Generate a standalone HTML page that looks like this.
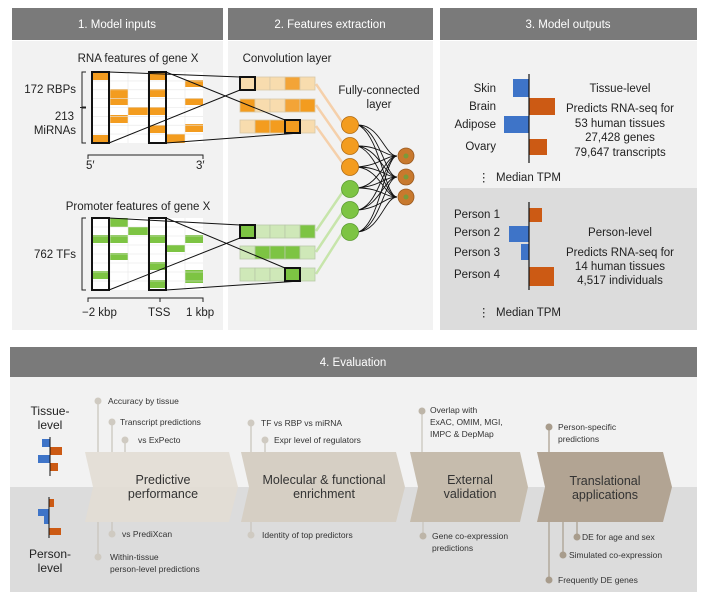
<!DOCTYPE html>
<html><head><meta charset="utf-8"><style>
body{margin:0;background:#fff;}
svg{display:block;font-family:"Liberation Sans",Arial,sans-serif;}
</style></head><body>
<svg width="711" height="602" viewBox="0 0 711 602" xmlns="http://www.w3.org/2000/svg">
<rect width="711" height="602" fill="#fff"/>
<!-- headers -->
<rect x="12" y="8" width="211" height="32" fill="#7a7a7a"/>
<rect x="228" y="8" width="205" height="32" fill="#7a7a7a"/>
<rect x="440" y="8" width="257" height="32" fill="#7a7a7a"/>
<g fill="#fff" font-size="11.5" text-anchor="middle">
<text x="117" y="28">1. Model inputs</text>
<text x="330" y="28">2. Features extraction</text>
<text x="568" y="28">3. Model outputs</text>
</g>
<rect x="12" y="41" width="211" height="289" fill="#f2f2f2"/>
<rect x="228" y="41" width="205" height="289" fill="#f2f2f2"/>
<rect x="440" y="41" width="257" height="147" fill="#f2f2f2"/>
<rect x="440" y="188" width="257" height="142" fill="#dcdcdc"/>

<!-- RNA grid -->
<g font-size="11.5" fill="#222">
<text x="138" y="62" text-anchor="middle">RNA features of gene X</text>
<text x="138" y="210" text-anchor="middle">Promoter features of gene X</text>
<text x="76" y="93" text-anchor="end">172 RBPs</text>
<text x="74" y="120" text-anchor="end">213</text>
<text x="76" y="134" text-anchor="end">MiRNAs</text>
<text x="76" y="258" text-anchor="end">762 TFs</text>
<text x="86" y="169">5′</text>
<text x="196" y="169">3′</text>
<text x="82" y="316">−2 kbp</text>
<text x="148" y="316">TSS</text>
<text x="186" y="316">1 kbp</text>
<text x="287" y="62" text-anchor="middle">Convolution layer</text>
<text x="379" y="94" text-anchor="middle">Fully-connected</text>
<text x="379" y="108" text-anchor="middle">layer</text>
</g>
<rect x="91" y="72" width="112" height="71" fill="#fff"/>
<g fill="#f39c1f">
<rect x="91" y="72" width="19" height="8"/><rect x="91" y="135" width="19" height="8"/>
<rect x="110" y="89" width="18" height="16"/><rect x="110" y="115" width="18" height="8"/>
<rect x="128" y="107" width="20" height="8"/>
<rect x="148" y="72" width="18" height="8"/><rect x="148" y="89" width="18" height="8"/><rect x="148" y="107" width="18" height="8"/><rect x="148" y="125" width="18" height="8"/>
<rect x="166" y="134" width="19" height="9"/>
<rect x="185" y="80" width="18" height="7"/><rect x="185" y="98" width="18" height="7"/><rect x="185" y="124" width="18" height="8"/>
</g>
<g stroke="#e6e6e6" stroke-width="0.6">
<path d="M91 80.9H203M91 89.8H203M91 98.6H203M91 107.5H203M91 116.4H203M91 125.2H203M91 134.1H203M110 72V143M128 72V143M148 72V143M166 72V143M185 72V143"/>
</g>
<rect x="91" y="218" width="112" height="72" fill="#fff"/>
<g fill="#7dc443">
<rect x="91" y="235" width="19" height="8"/><rect x="91" y="271" width="19" height="8"/>
<rect x="110" y="218" width="18" height="9"/><rect x="110" y="235" width="18" height="8"/><rect x="110" y="253" width="18" height="7"/>
<rect x="128" y="227" width="20" height="8"/>
<rect x="148" y="235" width="18" height="8"/><rect x="148" y="262" width="18" height="8"/><rect x="148" y="280" width="18" height="8"/>
<rect x="166" y="245" width="19" height="7"/>
<rect x="185" y="235" width="18" height="8"/><rect x="185" y="270" width="18" height="13"/>
</g>
<g stroke="#e6e6e6" stroke-width="0.6">
<path d="M91 227H203M91 236H203M91 245H203M91 254H203M91 263H203M91 272H203M91 281H203M110 218V290M128 218V290M148 218V290M166 218V290M185 218V290"/>
</g>
<g fill="none" stroke="#222" stroke-width="1">
<path d="M86 72H82V107H86M82 107.5H80M86 108H82V143H86"/>
<path d="M86 218H82V290H86"/>
<path d="M88 159V155H203V159"/>
<path d="M88 302V298H203V302M160 298V302"/>
</g>
<g fill="none" stroke="#111" stroke-width="2">
<rect x="92" y="72" width="17" height="71"/><rect x="149" y="72" width="17" height="71"/>
<rect x="92" y="218" width="17" height="72"/><rect x="149" y="218" width="17" height="72"/>
</g>

<!-- fan lines -->
<g stroke="#f6c89a" stroke-width="2.5" opacity="0.8">
<path d="M316 84L344 125M316 105L344 145M316 126L344 165"/>
</g>
<g stroke="#bde39a" stroke-width="2.5" opacity="0.8">
<path d="M316 231L344 190M316 252L344 210M316 274L344 230"/>
</g>
<!-- conv rows -->
<g stroke="#d8c8a8" stroke-width="0.8">
<rect x="240" y="77" width="15" height="13" fill="#f8dcae"/><rect x="255" y="77" width="15" height="13" fill="#f8dcae"/><rect x="270" y="77" width="15" height="13" fill="#f8dcae"/><rect x="285" y="77" width="15" height="13" fill="#f3a437"/><rect x="300" y="77" width="15" height="13" fill="#f8dcae"/>
<rect x="240" y="99" width="15" height="13" fill="#f39c1f"/><rect x="255" y="99" width="15" height="13" fill="#f8dcae"/><rect x="270" y="99" width="15" height="13" fill="#f8dcae"/><rect x="285" y="99" width="15" height="13" fill="#f3a437"/><rect x="300" y="99" width="15" height="13" fill="#f39c1f"/>
<rect x="240" y="120" width="15" height="13" fill="#f8dcae"/><rect x="255" y="120" width="15" height="13" fill="#f39c1f"/><rect x="270" y="120" width="15" height="13" fill="#f39c1f"/><rect x="285" y="120" width="15" height="13" fill="#f39c1f"/><rect x="300" y="120" width="15" height="13" fill="#f8dcae"/>
</g>
<g stroke="#b8c8a8" stroke-width="0.8">
<rect x="240" y="225" width="15" height="13" fill="#7dc443"/><rect x="255" y="225" width="15" height="13" fill="#cfe8b8"/><rect x="270" y="225" width="15" height="13" fill="#cfe8b8"/><rect x="285" y="225" width="15" height="13" fill="#cfe8b8"/><rect x="300" y="225" width="15" height="13" fill="#7dc443"/>
<rect x="240" y="246" width="15" height="13" fill="#cfe8b8"/><rect x="255" y="246" width="15" height="13" fill="#7dc443"/><rect x="270" y="246" width="15" height="13" fill="#7dc443"/><rect x="285" y="246" width="15" height="13" fill="#7dc443"/><rect x="300" y="246" width="15" height="13" fill="#cfe8b8"/>
<rect x="240" y="268" width="15" height="13" fill="#cfe8b8"/><rect x="255" y="268" width="15" height="13" fill="#cfe8b8"/><rect x="270" y="268" width="15" height="13" fill="#cfe8b8"/><rect x="285" y="268" width="15" height="13" fill="#7dc443"/><rect x="300" y="268" width="15" height="13" fill="#cfe8b8"/>
</g>
<g fill="none" stroke="#111" stroke-width="2">
<rect x="240" y="77" width="15" height="13"/><rect x="285" y="120" width="15" height="13"/>
<rect x="240" y="225" width="15" height="13"/><rect x="285" y="268" width="15" height="13"/>
</g>
<g stroke="#111" stroke-width="1">
<path d="M109 72L240 77M109 143L240 90M166 72L285 120M166 143L300 133"/>
<path d="M109 218L240 225M109 290L240 238M166 218L285 268M166 290L300 281"/>
</g>
<!-- FC -->
<g fill="none" stroke="#111" stroke-width="0.9">
<path d="M358 125C380 125 385 156 397 156M358 125C380 130 385 177 397 177M358 125C380 135 385 197 397 197"/>
<path d="M358 146C380 146 385 156 397 156M358 146C380 150 385 177 397 177M358 146C380 155 385 197 397 197"/>
<path d="M358 167C380 165 385 156 397 156M358 167C380 167 385 177 397 177M358 167C380 170 385 197 397 197"/>
<path d="M358 188C380 185 385 156 397 156M358 188C380 186 385 177 397 177M358 188C380 188 385 197 397 197"/>
<path d="M358 210C380 205 385 156 397 156M358 210C380 205 385 177 397 177M358 210C380 208 385 197 397 197"/>
<path d="M358 232C380 225 385 156 397 156M358 232C380 228 385 177 397 177M358 232C380 230 385 197 397 197"/>
</g>
<g stroke="#b06a10" stroke-width="0.8" fill="#f39c1f">
<circle cx="350" cy="125" r="8.5"/><circle cx="350" cy="146" r="8.5"/><circle cx="350" cy="167" r="8.5"/>
</g>
<g stroke="#5a9a30" stroke-width="0.8" fill="#7dc443">
<circle cx="350" cy="189" r="8.5"/><circle cx="350" cy="210" r="8.5"/><circle cx="350" cy="232" r="8.5"/>
</g>
<g fill="#c8792e" stroke="#9a5a20" stroke-width="0.8">
<circle cx="406" cy="156" r="8"/><circle cx="406" cy="177" r="8"/><circle cx="406" cy="197" r="8"/>
</g>
<g fill="#7a9a3a"><circle cx="406" cy="156" r="2.5"/><circle cx="406" cy="177" r="2.5"/><circle cx="406" cy="197" r="2.5"/></g>

<!-- Model outputs -->
<rect x="513" y="79" width="16" height="18" fill="#3e74c8"/>
<rect x="529" y="98" width="26" height="17" fill="#cc5a14"/>
<rect x="504" y="116" width="25" height="17" fill="#3e74c8"/>
<rect x="529" y="139" width="18" height="16" fill="#cc5a14"/>
<path d="M529 74V163" stroke="#111" stroke-width="1.2"/>
<rect x="529" y="208" width="13" height="14" fill="#cc5a14"/>
<rect x="509" y="226" width="20" height="16" fill="#3e74c8"/>
<rect x="521" y="244" width="8" height="16" fill="#3e74c8"/>
<rect x="529" y="267" width="25" height="19" fill="#cc5a14"/>
<path d="M529 202V290" stroke="#111" stroke-width="1.2"/>
<g font-size="11.5" fill="#222">
<g text-anchor="end"><text x="496" y="92">Skin</text><text x="496" y="110">Brain</text><text x="496" y="128">Adipose</text><text x="496" y="150">Ovary</text></g>
<text x="454" y="218">Person 1</text><text x="454" y="236">Person 2</text><text x="454" y="256">Person 3</text><text x="454" y="278">Person 4</text>
<g text-anchor="middle">
<text x="620" y="92">Tissue-level</text><text x="620" y="112">Predicts RNA-seq for</text><text x="620" y="127">53 human tissues</text><text x="620" y="141">27,428 genes</text><text x="620" y="156">79,647 transcripts</text>
<text x="620" y="236">Person-level</text><text x="620" y="256">Predicts RNA-seq for</text><text x="620" y="270">14 human tissues</text><text x="620" y="284">4,517 individuals</text>
</g>
<text x="478" y="181">⋮</text><text x="496" y="181">Median TPM</text>
<text x="478" y="316">⋮</text><text x="496" y="316">Median TPM</text>
</g>

<!-- Evaluation -->
<rect x="10" y="347" width="687" height="30" fill="#7a7a7a"/>
<text x="353" y="366" fill="#fff" font-size="11.5" text-anchor="middle">4. Evaluation</text>
<rect x="10" y="377" width="687" height="110" fill="#f2f2f2"/>
<rect x="10" y="487" width="687" height="105" fill="#dcdcdc"/>
<polygon points="85,452 229,452 238,487 229,522 85,522 93,487" fill="#e2ddd4" opacity="0.9"/>
<polygon points="241,452 396,452 405,487 396,522 241,522 249,487" fill="#d6cfc4"/>
<polygon points="410,452 520,452 528,487 520,522 410,522 418,487" fill="#c6bcad"/>
<polygon points="537,452 663,452 672,487 663,522 537,522 545,487" fill="#b2a493"/>
<g font-size="12.5" fill="#333" text-anchor="middle">
<text x="163" y="484">Predictive</text><text x="163" y="498">performance</text>
<text x="324" y="484">Molecular &amp; functional</text><text x="324" y="498">enrichment</text>
<text x="470" y="484">External</text><text x="470" y="498">validation</text>
<text x="605" y="485">Translational</text><text x="605" y="499">applications</text>
</g>
<g stroke="#c8c3ba" stroke-width="1.2" fill="none">
<path d="M98 401V452M112 422V452M125 440V452M112 522V534M98 522V557M251 423V452M265 440V452M251 522V535M422 411V452M423 522V536"/>
</g>
<g stroke="#a89c8c" stroke-width="1.2"><path d="M549 427V452M577 522V537M563 522V555M549 522V580"/></g>
<g fill="#cfcac1">
<circle cx="98" cy="401" r="3.5"/><circle cx="112" cy="422" r="3.5"/><circle cx="125" cy="440" r="3.5"/>
<circle cx="112" cy="534" r="3.5"/><circle cx="98" cy="557" r="3.5"/>
<circle cx="251" cy="423" r="3.5"/><circle cx="265" cy="440" r="3.5"/><circle cx="251" cy="535" r="3.5"/>
<circle cx="422" cy="411" r="3.5" fill="#bdb5a8"/><circle cx="423" cy="536" r="3.5" fill="#bdb5a8"/>
</g>
<g fill="#a89c8c"><circle cx="549" cy="427" r="3.5"/><circle cx="577" cy="537" r="3.5"/><circle cx="563" cy="555" r="3.5"/><circle cx="549" cy="580" r="3.5"/></g>
<g font-size="8.5" fill="#333">
<text x="108" y="404">Accuracy by tissue</text>
<text x="120" y="425">Transcript predictions</text>
<text x="138" y="443">vs ExPecto</text>
<text x="122" y="537">vs PrediXcan</text>
<text x="110" y="560">Within-tissue</text><text x="110" y="572">person-level predictions</text>
<text x="261" y="426">TF vs RBP vs miRNA</text>
<text x="274" y="443">Expr level of regulators</text>
<text x="262" y="538">Identity of top predictors</text>
<text x="430" y="413">Overlap with</text><text x="430" y="425">ExAC, OMIM, MGI,</text><text x="430" y="437">IMPC &amp; DepMap</text>
<text x="432" y="539">Gene co-expression</text><text x="432" y="551">predictions</text>
<text x="558" y="430">Person-specific</text><text x="558" y="442">predictions</text>
<text x="582" y="540">DE for age and sex</text>
<text x="569" y="558">Simulated co-expression</text>
<text x="558" y="583">Frequently DE genes</text>
</g>
<g font-size="12" fill="#222" text-anchor="middle">
<text x="50" y="415">Tissue-</text><text x="50" y="429">level</text>
<text x="50" y="558">Person-</text><text x="50" y="572">level</text>
</g>
<rect x="42" y="439" width="8" height="8" fill="#3e74c8"/>
<rect x="50" y="447" width="12" height="8" fill="#cc5a14"/>
<rect x="38" y="455" width="12" height="8" fill="#3e74c8"/>
<rect x="50" y="463" width="8" height="8" fill="#cc5a14"/>
<path d="M50 437V476" stroke="#111" stroke-width="1"/>
<rect x="49" y="499" width="5" height="8" fill="#cc5a14"/>
<rect x="38" y="509" width="11" height="7" fill="#3e74c8"/>
<rect x="44" y="516" width="5" height="8" fill="#3e74c8"/>
<rect x="49" y="528" width="12" height="7" fill="#cc5a14"/>
<path d="M49 497V538" stroke="#111" stroke-width="1"/>
</svg>
</body></html>
